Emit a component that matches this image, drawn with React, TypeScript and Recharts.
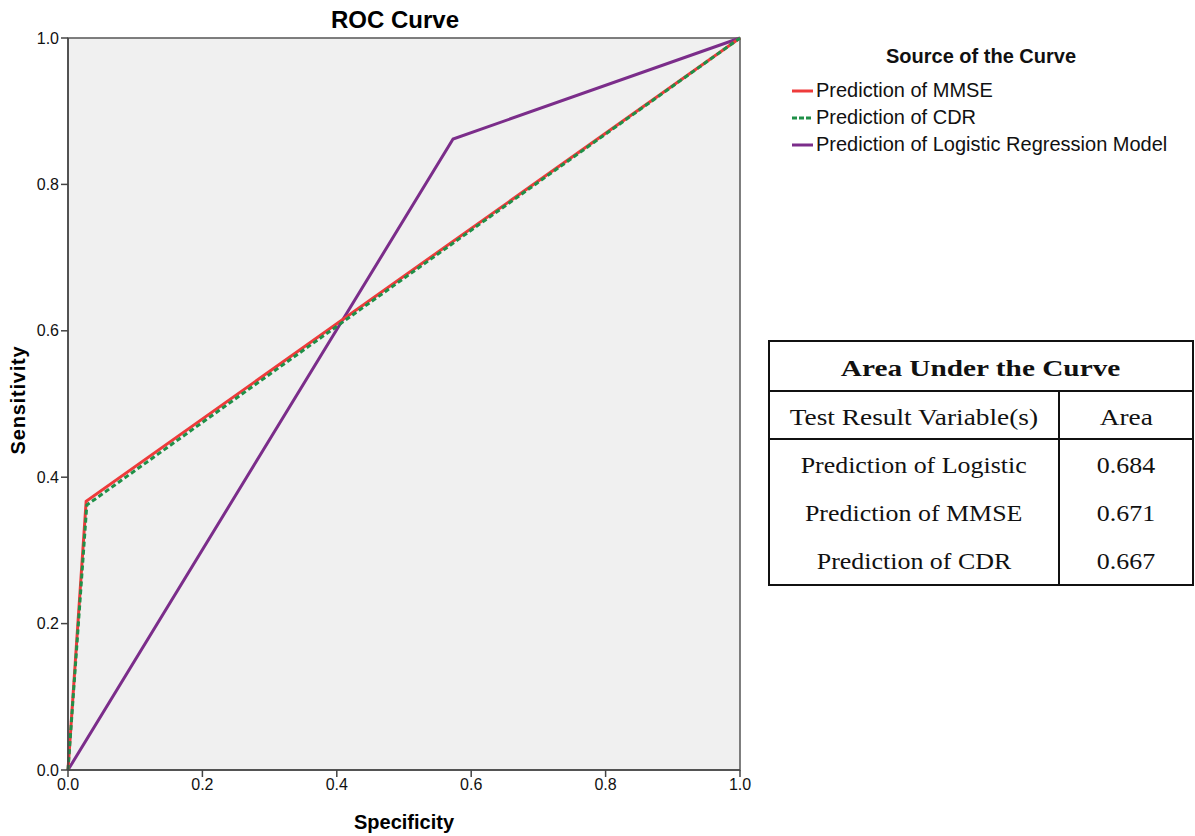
import { LineChart, Line, XAxis, YAxis, ReferenceArea } from "recharts"

// ROC points (x = 1 - specificity, y = sensitivity)
const mmseX = [0, 0.027, 1]
const mmseY = [0, 0.367, 1]
const cdrX = [0, 0.028, 1]
const cdrY = [0, 0.362, 1]
const logitX = [0, 0.573, 1]
const logitY = [0, 0.862, 1]

const ticks = [0, 0.2, 0.4, 0.6, 0.8, 1.0]

const legendNames = ["Prediction of MMSE", "Prediction of CDR", "Prediction of Logistic Regression Model"]
const legendColors = ["#ee3b3b", "#1f9048", "#7b2d8a"]

const aucNames = ["Prediction of Logistic", "Prediction of MMSE", "Prediction of CDR"]
const aucValues = ["0.684", "0.671", "0.667"]

const toPoints = (xs: number[], ys: number[]) => xs.map((x, i) => ({ x, y: ys[i] }))

const tickFont = "'Liberation Sans Narrow', 'Liberation Sans', Arial, sans-serif"
const boldFont = "'Liberation Sans', Arial, sans-serif"
const serif = "'Liberation Serif', 'Times New Roman', serif"

// table text in the picture is drawn wider than a normal serif face
const Wide = ({ children, s = 1.14 }: { children: any; s?: number }) => (
  <span style={{ display: "inline-block", transform: `scaleX(${s})` }}>{children}</span>
)

export default function App() {
  const cell = { fontFamily: serif, fontSize: 24, color: "#111", textAlign: "center" as const, padding: "4px 0 0 0" }

  return (
    <div style={{ position: "absolute", left: 0, top: 0, width: 1195, height: 836, background: "#fff" }}>
      <div style={{ position: "absolute", left: 395, top: 6, transform: "translateX(-50%)", fontFamily: boldFont, fontWeight: "bold", fontSize: 24 }}>
        ROC Curve
      </div>
      <div style={{ position: "absolute", left: 404, top: 811, transform: "translateX(-50%)", fontFamily: boldFont, fontWeight: "bold", fontSize: 20 }}>
        Specificity
      </div>
      <div style={{ position: "absolute", left: 18, top: 400, transform: "translate(-50%, -50%) rotate(-90deg)", fontFamily: boldFont, fontWeight: "bold", fontSize: 20, letterSpacing: 0.8, whiteSpace: "nowrap" }}>
        Sensitivity
      </div>

      <div style={{ position: "absolute", left: 0, top: 0 }}>
        <LineChart width={760} height={836} margin={{ top: 38, right: 20, left: 8, bottom: 36 }}>
          <ReferenceArea x1={0} x2={1} y1={0} y2={1} fill="#f0f0f0" fillOpacity={1} stroke="#555" strokeWidth={1.5} />
          <XAxis
            type="number"
            dataKey="x"
            domain={[0, 1]}
            ticks={ticks}
            tickFormatter={(v: number) => v.toFixed(1)}
            stroke="#444"
            strokeWidth={1.5}
            tickSize={7}
            height={30}
            tick={{ fill: "#111", fontSize: 16, fontFamily: tickFont }}
            allowDuplicatedCategory={false}
          />
          <YAxis
            type="number"
            dataKey="y"
            domain={[0, 1]}
            ticks={ticks}
            tickFormatter={(v: number) => v.toFixed(1)}
            stroke="#444"
            strokeWidth={1.5}
            tickSize={7}
            width={60}
            tick={{ fill: "#111", fontSize: 16, fontFamily: tickFont }}
          />
          <Line data={toPoints(logitX, logitY)} dataKey="y" stroke={legendColors[2]} strokeWidth={3} dot={false} isAnimationActive={false} />
          <Line data={toPoints(mmseX, mmseY)} dataKey="y" stroke={legendColors[0]} strokeWidth={3} dot={false} isAnimationActive={false} />
          <Line data={toPoints(cdrX, cdrY)} dataKey="y" stroke={legendColors[1]} strokeWidth={3} strokeDasharray="5 3" dot={false} isAnimationActive={false} />
        </LineChart>
      </div>

      {/* legend */}
      <div style={{ position: "absolute", left: 792, top: 45, fontFamily: boldFont, fontSize: 20, color: "#111" }}>
        <div style={{ fontWeight: "bold", marginLeft: 94, marginBottom: 9 }}>Source of the Curve</div>
        {legendNames.map((n, i) => (
          <div key={n} style={{ display: "flex", alignItems: "center", height: 27 }}>
            <svg width={22} height={6} style={{ marginRight: 2 }}>
              <line x1={0} y1={3} x2={21} y2={3} stroke={legendColors[i]} strokeWidth={3} strokeDasharray={i === 1 ? "5 2" : undefined} />
            </svg>
            <span>{n}</span>
          </div>
        ))}
      </div>

      {/* AUC table */}
      <table style={{ position: "absolute", left: 768, top: 340, width: 426, borderCollapse: "collapse", border: "2px solid #111" }}>
        <tbody>
          <tr style={{ height: 50 }}>
            <td colSpan={2} style={{ ...cell, fontWeight: "bold", borderBottom: "2px solid #111" }}><Wide s={1.22}>Area Under the Curve</Wide></td>
          </tr>
          <tr style={{ height: 48 }}>
            <td style={{ ...cell, width: 288, borderRight: "2px solid #111", borderBottom: "2px solid #111" }}><Wide>Test Result Variable(s)</Wide></td>
            <td style={{ ...cell, borderBottom: "2px solid #111" }}><Wide>Area</Wide></td>
          </tr>
          {aucNames.map((n, i) => (
            <tr key={n} style={{ height: 48.5 }}>
              <td style={{ ...cell, borderRight: "2px solid #111" }}><Wide s={1.08}>{n}</Wide></td>
              <td style={cell}><Wide s={1.08}>{aucValues[i]}</Wide></td>
            </tr>
          ))}
        </tbody>
      </table>
    </div>
  )
}
